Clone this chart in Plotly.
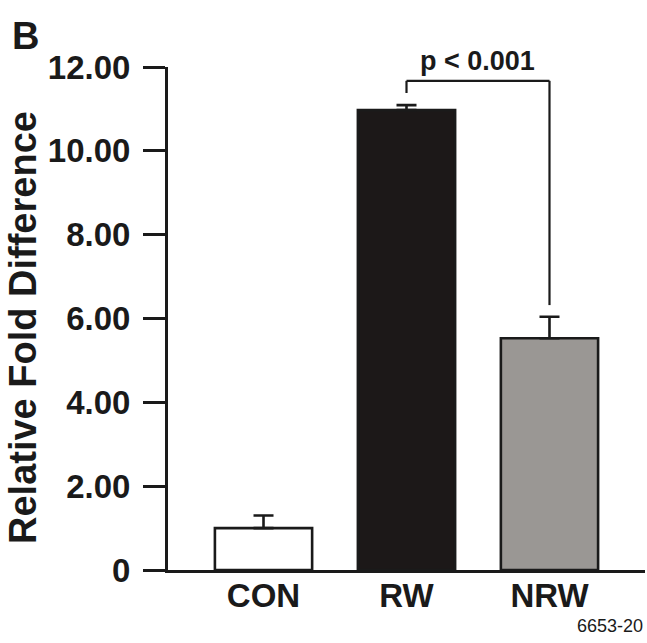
import plotly.graph_objects as go

categories = ["CON", "RW", "NRW"]
means = [1.0, 10.97, 5.53]
errors = [0.30, 0.12, 0.51]
bar_colors = ["#ffffff", "#1c1818", "#9a9794"]
y_tick_vals = [0, 2, 4, 6, 8, 10, 12]
y_tick_text = ["0", "2.00", "4.00", "6.00", "8.00", "10.00", "12.00"]
bracket_left_y = 11.38
bracket_top_y = 11.67
bracket_right_y = 6.32
p_label = "p < 0.001"

W, H = 647, 643
L, R, T, B = 168, 2, 67, 73
pw, ph = W - L - R, H - T - B

def px_x(px):
    return (px - L) / pw

def px_y(py):
    return (H - B - py) / ph

FONT = "Liberation Sans, Arial, sans-serif"

fig = go.Figure()
fig.add_trace(go.Bar(
    x=categories, y=means, width=0.68,
    marker=dict(color=bar_colors, line=dict(color="#1a1a1a", width=2.6)),
    error_y=dict(type="data", symmetric=False, array=errors,
                 arrayminus=[0, 0, 0], color="#1a1a1a", thickness=2.6, width=10),
    showlegend=False,
))

# significance bracket
line_style = dict(color="#1a1a1a", width=2.2)
fig.add_shape(type="line", xref="x", yref="y", x0=1, x1=1,
              y0=bracket_left_y, y1=bracket_top_y, line=line_style)
fig.add_shape(type="line", xref="x", yref="y", x0=1, x1=2,
              y0=bracket_top_y, y1=bracket_top_y, line=line_style)
fig.add_shape(type="line", xref="x", yref="y", x0=2, x1=2,
              y0=bracket_top_y, y1=bracket_right_y, line=line_style)

annotations = [
    dict(text=p_label, x=1.5, xref="x", y=px_y(61), yref="paper",
         showarrow=False, xanchor="center", yanchor="middle",
         font=dict(family=FONT, size=27, color="#1a1a1a", weight="bold")),
    dict(text="B", x=px_x(25), y=px_y(36), xref="paper", yref="paper",
         showarrow=False, xanchor="center", yanchor="middle",
         font=dict(family=FONT, size=38, color="#1a1a1a", weight="bold")),
    dict(text="Relative Fold Difference", x=px_x(23), y=px_y(328),
         xref="paper", yref="paper", textangle=-90,
         showarrow=False, xanchor="center", yanchor="middle",
         font=dict(family=FONT, size=38, color="#1a1a1a", weight="bold")),
    dict(text="6653-20", x=px_x(645), y=px_y(626), xref="paper", yref="paper",
         showarrow=False, xanchor="right", yanchor="middle",
         font=dict(family=FONT, size=18, color="#1a1a1a")),
]

fig.update_layout(
    width=W, height=H,
    margin=dict(l=L, r=R, t=T, b=B),
    paper_bgcolor="white", plot_bgcolor="white",
    annotations=annotations,
    xaxis=dict(
        range=[-0.668, 2.668], showline=True, linecolor="#1a1a1a", linewidth=3,
        showgrid=False, zeroline=False, ticks="",
        tickfont=dict(family=FONT, size=33, color="#1a1a1a", weight="bold"),
        ticklabelstandoff=-6,
    ),
    yaxis=dict(
        range=[0, 12], showline=True, linecolor="#1a1a1a", linewidth=3,
        showgrid=False, zeroline=False,
        tickvals=y_tick_vals, ticktext=y_tick_text,
        ticks="outside", ticklen=22, tickwidth=3, tickcolor="#1a1a1a",
        tickfont=dict(family=FONT, size=33, color="#1a1a1a", weight="bold"),
        ticklabelstandoff=6,
    ),
    bargap=0.3,
)

fig.write_html("out.html")
